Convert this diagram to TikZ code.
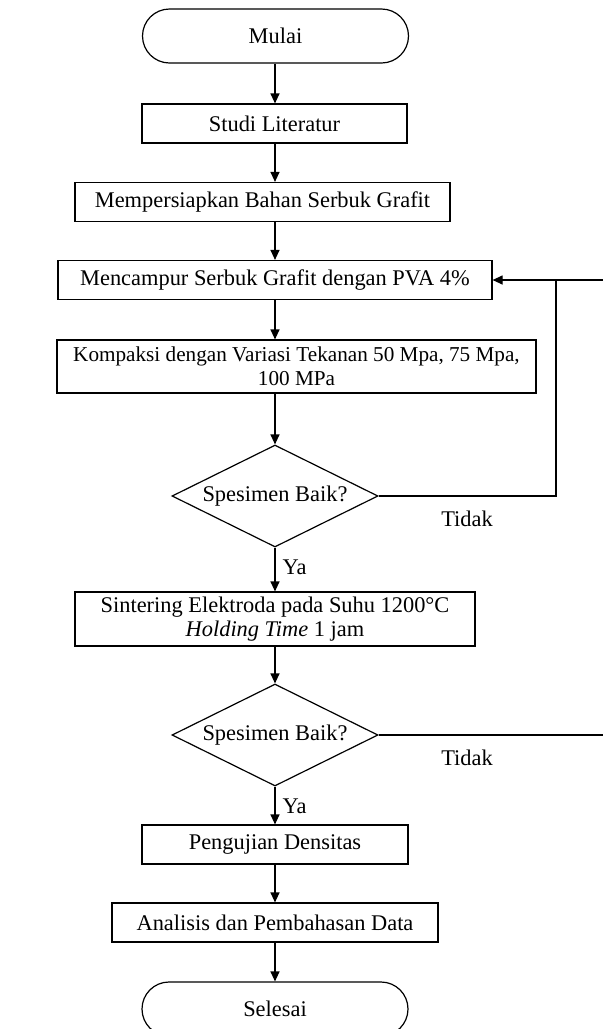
\documentclass[tikz,border=0pt]{standalone}
\usepackage{fontspec}
\setmainfont{Liberation Serif}
\usetikzlibrary{shapes.geometric, arrows.meta}

\begin{document}
\begin{tikzpicture}[
    x=0.5pt, y=0.5pt,
    line width=0.6pt,
    >={Triangle[length=5pt, width=4.5pt]},
    every node/.style={font=\fontsize{11.2}{12}\selectfont, inner sep=0pt},
    term/.style={rectangle, draw, rounded corners=13.5pt, minimum width=133pt, minimum height=27pt},
    proc/.style={rectangle, draw, minimum height=19.5pt},
    cek/.style={diamond, draw, aspect=2, minimum width=103pt, minimum height=51pt},
]

% Batas gambar
\useasboundingbox (0,0) rectangle (603,-1029);
\clip (0,0) rectangle (603,-1029);

% Awal
\node[term] (mulai) at (275.5, -36) {Mulai};

% Tahap persiapan
\node[proc, minimum width=132.5pt] (studi) at (274.5, -123.5) {Studi Literatur};
\node[proc, minimum width=187.5pt] (siap) at (262.5, -202) {Mempersiapkan Bahan Serbuk Grafit};
\node[proc, minimum width=217pt] (campur) at (275, -280) {Mencampur Serbuk Grafit dengan PVA 4\%};
\node[proc, minimum width=239.5pt, minimum height=26.5pt, align=center,
    font=\fontsize{10.6}{11.8}\selectfont] (kompak) at (296.5, -366.5)
    {Kompaksi dengan Variasi Tekanan 50 Mpa, 75 Mpa,\\100 MPa};

% Keputusan pertama
\node[cek] (cek1) at (275, -496) {Spesimen Baik?};

% Sintering
\node[proc, minimum width=200pt, minimum height=27pt, align=center] (sinter) at (275, -619)
    {Sintering Elektroda pada Suhu 1200°C\\\textit{Holding Time} 1 jam};

% Keputusan kedua
\node[cek] (cek2) at (275, -735) {Spesimen Baik?};

% Pengujian dan akhir
\node[proc, minimum width=133pt] (uji) at (275, -844.5) {Pengujian Densitas};
\node[proc, minimum width=163pt] (analisis) at (275, -922.5) {Analisis dan Pembahasan Data};
\node[term] (selesai) at (275, -1009) {Selesai};

% Label cabang
\node (tidak1) at (467, -519) {Tidak};
\node[anchor=west] (ya1) at (282, -567) {Ya};
\node (tidak2) at (467, -758) {Tidak};
\node[anchor=west] (ya2) at (282, -806) {Ya};

% Titik balik
\coordinate (balik1) at (556, -280);
\coordinate (balik2) at (640, -280);

% Alur utama
\draw[->] (mulai.south -| campur) -- (studi.north -| campur);
\draw[->] (studi.south -| campur) -- (siap.north -| campur);
\draw[->] (siap.south -| campur) -- (campur.north);
\draw[->] (campur.south) -- (kompak.north -| campur);
\draw[->] (kompak.south -| campur) -- (cek1.north);
\draw[->] (cek1.south) -- (sinter.north -| cek1);
\draw[->] (sinter.south -| cek1) -- (cek2.north);
\draw[->] (cek2.south) -- (uji.north);
\draw[->] (uji.south) -- (analisis.north);
\draw[->] (analisis.south) -- (selesai.north);

% Alur kembali
\draw[->] (cek1.east) -| (balik1) -- (campur.east);
\draw (cek2.east) -| (balik2) -- (balik1);

\end{tikzpicture}
\end{document}
